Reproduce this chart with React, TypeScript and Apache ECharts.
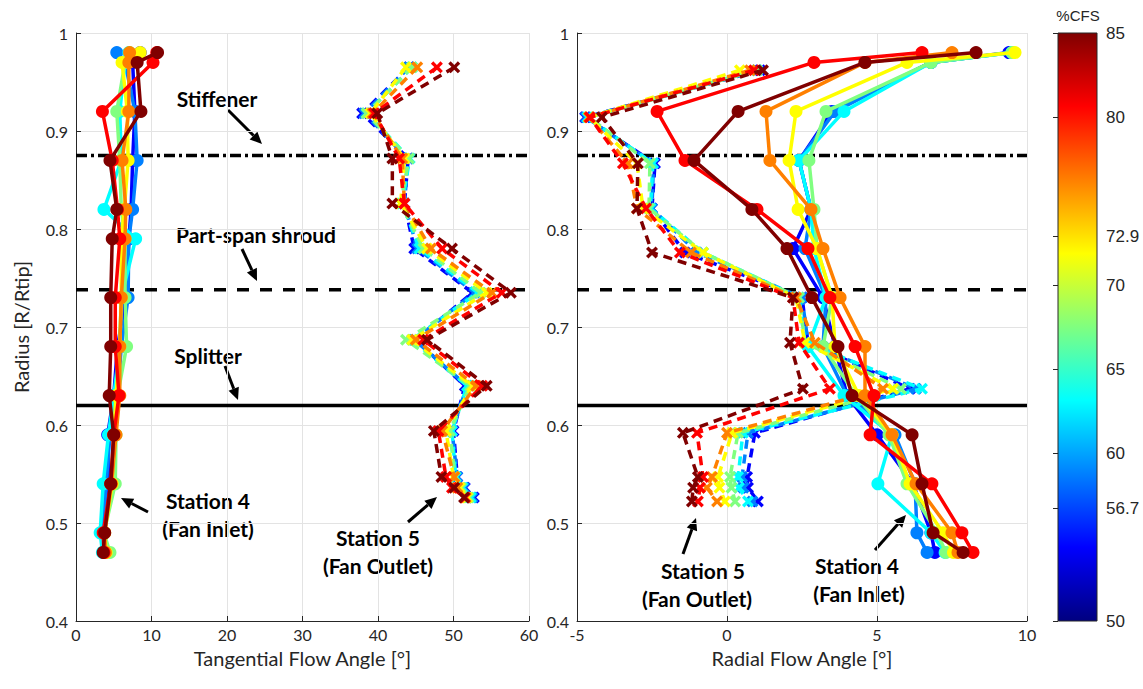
import React, { useEffect, useRef } from 'react';
import * as echarts from 'echarts';

// jet(8) colours, low %CFS -> high %CFS
const SERIES_COLORS = ['#0000ff', '#0080ff', '#00ffff', '#80ff80', '#ffff00', '#ff8000', '#ff0000', '#800000'];
const SERIES_NAMES = ['CFS 1', 'CFS 2', 'CFS 3', 'CFS 4', 'CFS 5', 'CFS 6', 'CFS 7', 'CFS 8'];

// radii of measurement points
const R4_LEFT = [0.98, 0.97, 0.92, 0.87, 0.82, 0.79, 0.73, 0.68, 0.63, 0.59, 0.54, 0.49, 0.47];
const R4_RIGHT = [0.98, 0.97, 0.92, 0.87, 0.82, 0.78, 0.73, 0.68, 0.63, 0.59, 0.54, 0.49, 0.47];
const R5_LEFT = [0.965, 0.918, 0.872, 0.826, 0.78, 0.735, 0.687, 0.64, 0.594, 0.547, 0.536, 0.526];
const R5_RIGHT = [0.962, 0.914, 0.867, 0.821, 0.776, 0.73, 0.684, 0.637, 0.592, 0.547, 0.536, 0.522];

// Station 4 tangential flow angle (deg)
const TAN_S4 = [
  [8.5, 7.5, 7.8, 7.5, 7.3, 7.0, 6.6, 5.5, 5.0, 4.2, 4.3, 3.7, 3.8],
  [5.4, 6.5, 7.8, 8.1, 7.5, 7.0, 6.9, 6.0, 5.5, 4.5, 4.0, 3.5, 3.6],
  [7.0, 6.5, 5.8, 6.0, 3.7, 7.9, 6.0, 5.8, 5.0, 4.3, 3.6, 3.2, 3.5],
  [7.1, 6.5, 5.4, 5.8, 6.0, 6.5, 6.5, 6.7, 5.5, 5.3, 5.2, 3.7, 4.5],
  [8.5, 6.1, 6.8, 6.9, 6.4, 6.0, 6.0, 5.8, 5.3, 5.0, 4.8, 3.8, 4.0],
  [7.1, 7.0, 7.0, 6.1, 6.6, 6.5, 6.0, 5.8, 5.8, 5.3, 4.7, 3.8, 3.9],
  [10.7, 10.2, 3.5, 4.8, 5.5, 5.8, 5.2, 5.2, 5.7, 5.0, 4.6, 3.6, 3.7],
  [10.8, 8.1, 8.6, 4.5, 5.4, 4.8, 4.6, 4.6, 4.4, 5.0, 4.6, 3.8, 3.6],
];

// Station 5 tangential flow angle (deg)
const TAN_S5 = [
  [44.1, 37.9, 44.0, 43.5, 44.8, 52.5, 45.0, 51.5, 50.0, 50.5, 51.5, 52.7],
  [44.1, 38.2, 44.0, 43.5, 45.2, 52.8, 44.8, 51.8, 49.8, 50.5, 51.4, 52.5],
  [44.5, 38.5, 44.2, 43.2, 45.5, 53.2, 44.5, 51.8, 49.8, 50.3, 51.2, 52.3],
  [44.5, 38.5, 44.1, 43.0, 46.0, 53.6, 43.7, 52.2, 49.5, 50.2, 51.0, 52.0],
  [43.7, 39.0, 43.5, 43.0, 46.5, 54.4, 44.5, 52.5, 49.0, 50.0, 50.8, 51.8],
  [45.2, 39.3, 43.2, 43.5, 47.0, 55.1, 45.0, 53.0, 48.5, 50.1, 50.5, 51.6],
  [47.8, 39.5, 42.8, 43.5, 48.5, 56.4, 46.0, 53.8, 48.0, 49.0, 49.8, 51.5],
  [50.1, 39.9, 41.9, 41.9, 49.8, 57.6, 46.5, 54.4, 47.4, 48.4, 50.1, 51.4],
];

// Station 4 radial flow angle (deg)
const RAD_S4 = [
  [9.4, 6.8, 3.5, 2.4, 2.8, 2.2, 3.2, 3.6, 4.0, 5.0, 6.2, 6.8, 6.93],
  [9.5, 6.8, 3.6, 2.4, 2.8, 2.6, 3.3, 3.2, 4.0, 5.6, 6.27, 6.33, 6.67],
  [9.5, 6.8, 3.9, 2.4, 2.8, 2.9, 3.3, 2.7, 3.9, 5.5, 5.03, 6.8, 7.27],
  [9.5, 6.8, 3.3, 2.73, 2.9, 3.0, 3.5, 3.2, 4.3, 5.4, 6.0, 7.0, 7.3],
  [9.6, 6.0, 2.3, 2.07, 2.37, 3.0, 3.5, 3.6, 4.4, 5.5, 6.1, 7.2, 7.55],
  [7.5, 4.6, 1.3, 1.43, 2.8, 3.2, 3.77, 4.6, 4.6, 5.5, 6.3, 7.5, 7.7],
  [6.5, 2.9, -2.33, -1.4, 1.0, 2.7, 3.43, 4.27, 4.9, 4.77, 6.83, 7.83, 8.2],
  [8.3, 4.6, 0.37, -1.1, 0.83, 2.0, 2.83, 3.7, 4.17, 6.17, 6.5, 6.87, 7.87],
];

// Station 5 radial flow angle (deg)
const RAD_S5 = [
  [1.1, -4.73, -2.4, -2.5, -1.4, 2.5, 2.7, 6.1, 0.93, 0.67, 0.7, 1.03],
  [1.0, -4.7, -2.45, -2.5, -1.0, 2.5, 2.7, 6.3, 0.7, 0.5, 0.55, 0.85],
  [1.0, -4.65, -2.47, -2.55, -0.8, 2.4, 2.6, 6.5, 0.53, 0.37, 0.4, 0.7],
  [1.0, -4.6, -2.57, -2.6, -0.8, 2.4, 2.6, 5.8, 0.37, 0.1, 0.15, 0.27],
  [0.43, -4.6, -3.0, -2.8, -0.8, 2.3, 2.6, 5.53, 0.17, -0.3, -0.25, -0.07],
  [0.77, -4.6, -3.3, -3.0, -1.2, 2.3, 2.93, 5.2, 0.0, -0.5, -0.67, -0.33],
  [0.9, -4.57, -3.47, -2.7, -1.57, 2.2, 2.4, 3.43, -1.0, -0.8, -0.9, -0.97],
  [1.2, -4.17, -2.97, -3.0, -2.5, 2.2, 2.1, 2.53, -1.47, -0.97, -1.13, -1.17],
];

// reference radii
const STIFFENER_R = 0.875;
const SHROUD_R = 0.738;
const SPLITTER_R = 0.62;

const TAN_AXIS = { min: 0, max: 60, interval: 10 };
const RAD_AXIS = { min: -5, max: 10, interval: 5 };
const RADIUS_AXIS = { min: 0.4, max: 1, interval: 0.1 };
const CFS_MIN = 50;
const CFS_MAX = 85;
const CFS_TICKS = [50, 56.7, 60, 65, 70, 72.9, 80, 85];

const CROSS = 'path://M0,2 L2,0 L5,3 L8,0 L10,2 L7,5 L10,8 L8,10 L5,7 L2,10 L0,8 L3,5 Z';
const TXT = '#262626';
const SANS = 'Lato, "Open Sans", sans-serif';
const ARIAL = '"Liberation Sans", Arial, sans-serif';

function arrow(x1: number, y1: number, x2: number, y2: number) {
  const a = Math.atan2(y2 - y1, x2 - x1);
  const L = 12, W = 5.5;
  const bx = x2 - L * Math.cos(a);
  const by = y2 - L * Math.sin(a);
  const s = Math.sin(a), c = Math.cos(a);
  return [
    { type: 'line', shape: { x1, y1, x2: bx, y2: by }, style: { stroke: '#000', lineWidth: 3 } },
    {
      type: 'polygon',
      shape: { points: [[x2, y2], [bx - W * s, by + W * c], [bx + W * s, by - W * c]] },
      style: { fill: '#000' },
    },
  ];
}

function label(text: string, x: number, y: number) {
  return {
    type: 'text',
    x,
    y,
    style: { text, align: 'center', verticalAlign: 'middle', fontSize: 21, fontWeight: 'bold', fontFamily: SANS, fill: '#000' },
  };
}

export default function App() {
  const ref = useRef<HTMLDivElement>(null);
  useEffect(() => {
    if (!ref.current) return;
    const chart = echarts.init(ref.current, null, { renderer: 'svg' });

    const series: any[] = [];
    const refLine = (xi: number, xmin: number, xmax: number, r: number, type: any) => ({
      type: 'line',
      xAxisIndex: xi,
      yAxisIndex: xi,
      data: [[xmin, r], [xmax, r]],
      symbol: 'none',
      silent: true,
      z: 1,
      lineStyle: { color: '#000', width: 3.5, type },
    });
    [[0, TAN_AXIS], [1, RAD_AXIS]].forEach(([xi, ax]: any) => {
      series.push(refLine(xi, ax.min, ax.max, STIFFENER_R, [11, 4, 3, 4]));
      series.push(refLine(xi, ax.min, ax.max, SHROUD_R, [12, 11]));
      series.push(refLine(xi, ax.min, ax.max, SPLITTER_R, 'solid'));
    });

    const addSet = (xi: number, vals: number[][], radii: number[], st5: boolean) => {
      vals.forEach((row, i) => {
        series.push({
          name: SERIES_NAMES[i],
          type: 'line',
          xAxisIndex: xi,
          yAxisIndex: xi,
          data: row.map((v, k) => [v, radii[k]]),
          symbol: st5 ? CROSS : 'circle',
          symbolSize: st5 ? 12 : 13,
          z: 3 + i,
          lineStyle: { color: SERIES_COLORS[i], width: 3.5, type: st5 ? [9, 6] : 'solid' },
          itemStyle: { color: SERIES_COLORS[i] },
          silent: true,
        });
      });
    };
    addSet(0, TAN_S5, R5_LEFT, true);
    addSet(0, TAN_S4, R4_LEFT, false);
    addSet(1, RAD_S5, R5_RIGHT, true);
    addSet(1, RAD_S4, R4_RIGHT, false);
    series.push({ type: 'scatter', xAxisIndex: 2, yAxisIndex: 2, data: [] });

    const axisCommon = {
      axisLine: { show: true, onZero: false, lineStyle: { color: '#262626', width: 1 } },
      axisTick: { show: true, inside: true, length: 5, lineStyle: { color: '#262626' } },
      splitLine: { show: true, lineStyle: { color: '#e3e3e3', width: 1 } },
      axisLabel: { fontSize: 16, fontFamily: SANS, color: TXT, margin: 5 },
      nameTextStyle: { fontSize: 20, fontFamily: SANS, color: TXT },
      nameMoveOverlap: false,
    };

    const option: any = {
      animation: false,
      grid: [
        { left: 76, top: 33, width: 453, height: 588 },
        { left: 577, top: 33, width: 450, height: 588 },
        { left: 1058, top: 33, width: 39, height: 588 },
      ],
      xAxis: [
        { type: 'value', gridIndex: 0, ...TAN_AXIS, ...axisCommon, name: 'Tangential Flow Angle [°]', nameLocation: 'middle', nameGap: 27 },
        { type: 'value', gridIndex: 1, ...RAD_AXIS, ...axisCommon, name: 'Radial Flow Angle [°]', nameLocation: 'middle', nameGap: 27 },
        { type: 'value', gridIndex: 2, min: 0, max: 1, show: false },
      ],
      yAxis: [
        { type: 'value', gridIndex: 0, ...RADIUS_AXIS, ...axisCommon, axisLabel: { ...axisCommon.axisLabel, margin: 8 }, name: 'Radius [R/Rtip]', nameLocation: 'middle', nameGap: 45 },
        { type: 'value', gridIndex: 1, ...RADIUS_AXIS, ...axisCommon, axisLabel: { ...axisCommon.axisLabel, margin: 8 } },
        {
          type: 'value',
          gridIndex: 2,
          min: CFS_MIN,
          max: CFS_MAX,
          position: 'right',
          axisLine: { show: false },
          splitLine: { show: false },
          axisTick: { show: true, inside: true, length: 5, customValues: CFS_TICKS, lineStyle: { color: '#262626' } },
          axisLabel: {
            customValues: CFS_TICKS,
            fontSize: 17,
            fontFamily: ARIAL,
            color: TXT,
            margin: 9,
            formatter: (v: number) => String(v),
          },
        },
      ],
      graphic: [
        {
          type: 'rect',
          shape: { x: 1058, y: 33, width: 39, height: 588 },
          z: -1,
          style: {
            fill: new echarts.graphic.LinearGradient(0, 1, 0, 0, [
              { offset: 0, color: '#000080' },
              { offset: 0.125, color: '#0000ff' },
              { offset: 0.375, color: '#00ffff' },
              { offset: 0.625, color: '#ffff00' },
              { offset: 0.875, color: '#ff0000' },
              { offset: 1, color: '#800000' },
            ]),
            stroke: '#262626',
            lineWidth: 1,
          },
        },
        {
          type: 'text',
          x: 1078,
          y: 15,
          style: { text: '%CFS', align: 'center', verticalAlign: 'middle', fontSize: 15, fontFamily: ARIAL, fill: TXT },
        },
        label('Stiffener', 217, 98),
        ...arrow(228, 110, 262, 144),
        label('Part-span shroud', 256, 234),
        ...arrow(242, 249, 257, 281),
        label('Splitter', 208, 355),
        ...arrow(225, 366, 238, 400),
        label('Station 4', 208, 500),
        label('(Fan Inlet)', 208, 528),
        ...arrow(148, 512, 121, 498),
        label('Station 5', 378, 537),
        label('(Fan Outlet)', 378, 565),
        ...arrow(408, 522, 437, 497),
        label('Station 5', 703, 570),
        label('(Fan Outlet)', 697, 598),
        ...arrow(683, 554, 696, 518),
        label('Station 4', 857, 565),
        label('(Fan Inlet)', 859, 593),
        ...arrow(875, 550, 906, 515),
      ],
      series,
    };
    chart.setOption(option);
    return () => chart.dispose();
  }, []);
  return <div ref={ref} style={{ position: 'absolute', left: 0, top: 0, width: 1143, height: 689, background: '#fff' }} />;
}
